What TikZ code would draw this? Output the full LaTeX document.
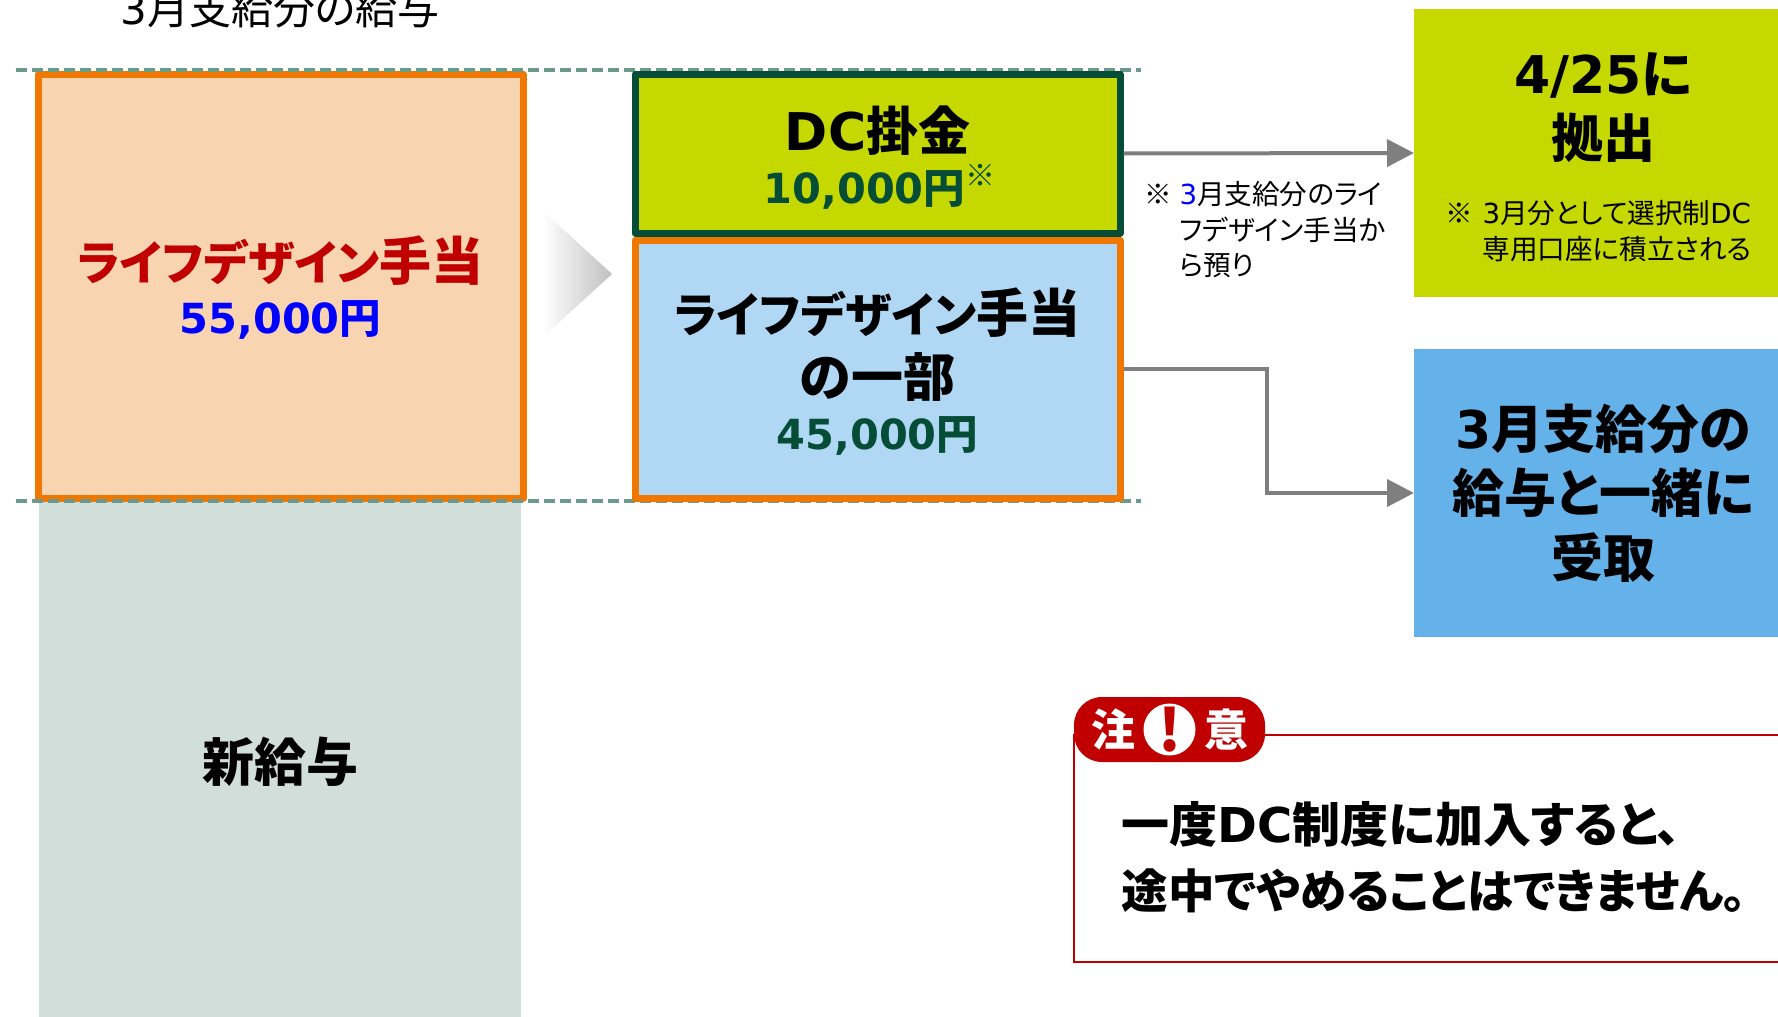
\documentclass[tikz,border=0pt]{standalone}
\usepackage{fontspec}
\setmainfont[RawFeature=+palt]{Noto Sans CJK JP}
\newfontfamily\lat{DejaVu Sans}
\usepackage{tikz}
\usetikzlibrary{shapes,arrows.meta,positioning}
\definecolor{paleorange}{HTML}{F8D5B0}
\definecolor{strongorange}{HTML}{F07800}
\definecolor{palegreen}{HTML}{D2DEDA}
\definecolor{dashgreen}{HTML}{6B9A8A}
\definecolor{darkgreen}{HTML}{064D37}
\definecolor{lime}{HTML}{C5D800}
\definecolor{paleblue}{HTML}{B0D8F4}
\definecolor{midblue}{HTML}{65B2EA}
\definecolor{warnred}{HTML}{C00000}
\definecolor{linegray}{HTML}{7F7F7F}
\newcommand{\allowancename}{{\fontsize{47}{62}\selectfont ライフデザイン}手当}

\begin{document}
\begin{tikzpicture}[x=1pt, y=-1pt, node distance = 0pt,
        box/.style={rectangle, inner sep=0pt, text centered, align=center, line join=round, line width=7pt},
        flat/.style={rectangle, inner sep=0pt, outer sep=0pt, align=center},
        big/.style={font=\bfseries\fontsize{52}{64.5}\selectfont},
        sum/.style={font=\bfseries\fontsize{41.5}{48}\selectfont},
        small/.style={font=\fontsize{27.6}{35.5}\selectfont, align=left},
        guide/.style={draw=dashgreen, line width=4pt, dash pattern=on 11pt off 5pt},
        line/.style={draw=linegray, line width=4pt, -{Triangle[length=27pt,width=27pt]}}
    ]
        \useasboundingbox (0,0) rectangle (1778,1017);
        % Title
        \node[font=\fontsize{42}{50}\selectfont] (title) at (280,9) {{\lat 3}月支給分の給与};
        % Left column
        \node[flat, fill=palegreen, minimum width=482pt, minimum height=522pt, big] (salary) at (280,762) {新給与};
        \node[box, draw=strongorange, fill=paleorange, minimum width=485pt, minimum height=424pt] (allowance) at (280.5,286) {};
        \node[big, text=warnred, yshift=25pt] (allowance_name) at (allowance.center) {\allowancename};
        \node[sum, text=blue, below=8pt of allowance_name] (allowance_sum) {{\lat 55,000}円};
        % Guides
        \coordinate (guide_tl) at (16,70);
        \coordinate (guide_tr) at (1141,70);
        \coordinate (guide_bl) at (16,501);
        \coordinate (guide_br) at (1141,501);
        \draw[guide] (guide_tl) -- (guide_tr);
        \draw[guide] (guide_bl) -- (guide_br);
        % Split arrow
        \shade[left color=white, middle color=gray!50, right color=gray!50] (543,211) -- (612,274) -- (543,337) -- cycle;
        % Middle column
        \node[box, draw=darkgreen, fill=lime, minimum width=485pt, minimum height=159pt] (dc) at (877.5,153.5) {};
        \node[big, yshift=23pt] (dc_name) at (dc.center) {{\lat DC}掛金};
        \node[sum, text=darkgreen, below=2pt of dc_name, xshift=2pt] (dc_sum) {{\lat 10,000}円\raisebox{17pt}{\fontsize{30}{30}\mdseries\selectfont ※}};
        \node[box, draw=strongorange, fill=paleblue, minimum width=485pt, minimum height=258pt] (part) at (877.5,369) {};
        \node[big, yshift=56pt] (part_name) at (part.center) {\allowancename};
        \node[big, below=8pt of part_name] (part_rest) {の一部};
        \node[sum, text=darkgreen, below=8pt of part_rest] (part_sum) {{\lat 45,000}円};
        % Side note
        \node[small, anchor=north west] (side_note) at (1141,178) {\makebox[35pt][l]{※}{\color{blue}\lat 3}月支給分のライ\\\hspace*{35pt}フデザイン手当か\\\hspace*{35pt}ら預り};
        % Right column
        \node[flat, fill=lime, minimum width=378pt, minimum height=288pt] (deposit) at (1603,153) {};
        \node[big, yshift=78pt] (deposit_date) at (deposit.center) {{\lat 4/25}に};
        \node[big, below=8pt of deposit_date] (deposit_word) {拠出};
        \node[small, anchor=north west] (deposit_note) at (1442,197) {\makebox[37pt][l]{※}{\lat 3}月分として選択制{\lat DC}\\\hspace*{37pt}専用口座に積立される};
        \node[flat, fill=midblue, minimum width=378pt, minimum height=288pt, big] (receive) at (1603,493) {{\lat 3}月支給分の\\給与と一緒に\\受取};
        % Connections
        \coordinate (bend) at (1267,369);
        \path[line] (dc.east) -- (deposit.west);
        \path[line] (part.east) -- (bend) |- (receive.west);
        % Warning
        \coordinate (frame_tr) at (1778,735);
        \coordinate (frame_tl) at (1074,735);
        \coordinate (frame_bl) at (1074,962);
        \coordinate (frame_br) at (1778,962);
        \draw[warnred, line width=2.5pt] (frame_tr) -- (frame_tl) -- (frame_bl) -- (frame_br);
        \node[flat, fill=warnred, rounded corners=28pt, minimum width=191pt, minimum height=65pt] (badge) at (1169.5,729.5) {};
        \node[circle, fill=white, inner sep=0pt, minimum size=52pt, text=warnred, font=\bfseries\fontsize{58}{58}\selectfont] (bang) at (badge.center) {!};
        \node[text=white, font=\bfseries\fontsize{44}{44}\selectfont, left=4pt of bang] (warn_a) {注};
        \node[text=white, font=\bfseries\fontsize{44}{44}\selectfont, right=5pt of bang] (warn_b) {意};
        \node[anchor=north west, align=left, font=\bfseries\fontsize{46.5}{66}\selectfont] (warn_text) at (1118,798) {{\fontsize{48}{66}\selectfont 一度{\lat DC}制度に加入すると、}\\途中でやめることはできません。};
    \end{tikzpicture}
\end{document}
